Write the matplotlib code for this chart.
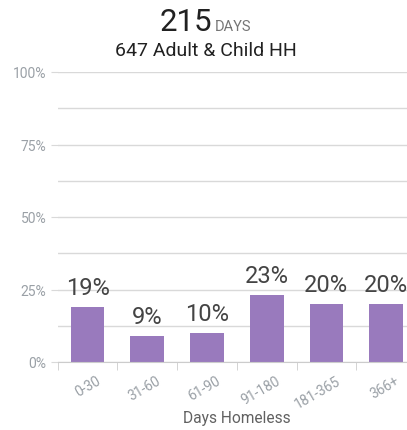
import matplotlib
matplotlib.use("Agg")
import matplotlib.pyplot as plt
from matplotlib.ticker import MultipleLocator, FixedLocator, FuncFormatter
import matplotlib.transforms as mtransforms
import numpy as np

categories = ["0-30", "31-60", "61-90", "91-180", "181-365", "366+"]
values = [19, 9, 10, 23, 20, 20]
labels = ["19%", "9%", "10%", "23%", "20%", "20%"]
headline_value = "215"
headline_unit = "DAYS"
subtitle = "647 Adult & Child HH"
xlabel = "Days Homeless"

plt.rcParams['font.family'] = ['Roboto', 'DejaVu Sans']

W, H = 407, 431
fig = plt.figure(figsize=(W / 100, H / 100), dpi=100)
left_px, right_px, top_px, bot_px = 57.7, 416, 73, 363
ax = fig.add_axes([left_px / W, 1 - bot_px / H, (right_px - left_px) / W, (bot_px - top_px) / H])

x = np.arange(len(categories))
bar_color = "#997abd"
ax.bar(x, values, width=0.565, color=bar_color, zorder=3)

for xi, v, lab in zip(x, values, labels):
    ax.annotate(lab, (xi, v), xytext=(0, 6), textcoords="offset points",
                ha="center", va="bottom", fontsize=17, color="#444444", zorder=4)

ax.set_xlim(-0.5, len(categories) - 0.5)
ax.set_ylim(0, 100)

grid_color = "#d9d9d9"
ax.yaxis.set_major_locator(MultipleLocator(25))
ax.yaxis.set_minor_locator(MultipleLocator(12.5))
ax.yaxis.set_major_formatter(FuncFormatter(lambda v, p: f"{int(v)}%"))
ax.grid(axis="y", which="both", color=grid_color, linewidth=1, zorder=0)
ax.tick_params(axis="y", which="major", length=5, color=grid_color, labelsize=10,
               labelcolor="#9aa0a6", pad=3)
ax.tick_params(axis="y", which="minor", length=0)

ax.set_xticks(x)
ax.set_xticklabels(categories, rotation=30, ha="right", rotation_mode="anchor")
ax.xaxis.set_minor_locator(FixedLocator(np.arange(len(categories)) - 0.5))
ax.tick_params(axis="x", which="major", length=0, labelsize=10, labelcolor="#9aa0a6", pad=8)
ax.tick_params(axis="x", which="minor", length=6, color="#cccccc")
offset = mtransforms.ScaledTranslation(9 / 100, 0, fig.dpi_scale_trans)
for lbl in ax.get_xticklabels():
    lbl.set_transform(lbl.get_transform() + offset)

for s in ["top", "right", "left"]:
    ax.spines[s].set_visible(False)
ax.spines["bottom"].set_color("#cccccc")
ax.spines["bottom"].set_zorder(5)

fig.text(236.5 / W, 1 - 419 / H, xlabel, ha="center", va="center",
         fontsize=11.2, color="#616161")

# headline
fig.text(212 / W, 1 - 31 / H, headline_value, ha="right", va="baseline", fontsize=22.5, color="#212121")
fig.text(215 / W, 1 - 31 / H, headline_unit, ha="left", va="baseline", fontsize=10.5, color="#757575")
fig.text(206 / W, 1 - 56 / H, subtitle, ha="center", va="baseline", fontsize=14, color="#212121")

fig.savefig("out.png", dpi=100)
